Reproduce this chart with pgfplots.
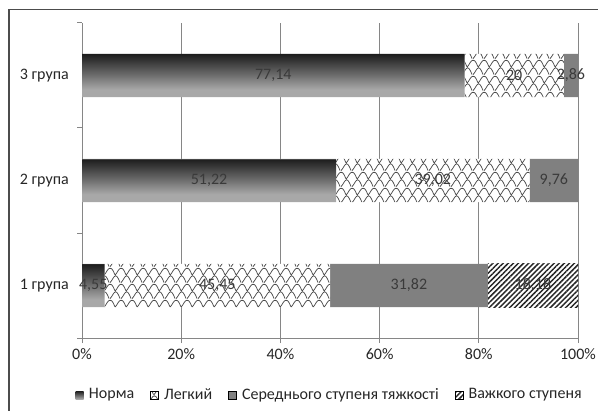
\documentclass[border=0pt]{standalone}
\usepackage{pgfplots}
\pgfplotsset{compat=1.18}
\usepackage{pgfplotstable}
\usepackage{fontspec}
\setmainfont{Carlito}
\usetikzlibrary{patterns,patterns.meta}

\definecolor{axiscol}{HTML}{868686}
\definecolor{labelcol}{HTML}{3A3A3A}
\definecolor{midgray}{HTML}{808080}
\definecolor{nlight}{HTML}{A8A8A8}
\definecolor{nmid}{HTML}{6A6A6A}
\definecolor{ndark}{HTML}{1C1C1C}

% vertical gradient repeated on each of the three bars of the first series
% (bars span 0.795..3.205 of the y range, mapped onto 25bp..75bp)
\pgfdeclareverticalshading{normashade}{100bp}{%
  color(0bp)=(nlight); color(26.5bp)=(nlight); color(29.5bp)=(nmid); color(33.5bp)=(ndark);
  color(33.6bp)=(nlight); color(47.3bp)=(nlight); color(50.3bp)=(nmid); color(54.25bp)=(ndark);
  color(54.35bp)=(nlight); color(68bp)=(nlight); color(71bp)=(nmid); color(75bp)=(ndark);
  color(100bp)=(ndark)}

% staggered fish-scale fill for the "mild" series
\newcommand\scalearc[2]{%
  \pgfpathmoveto{\pgfpointadd{\pgfqpoint{#1}{#2}}{\pgfqpoint{0pt}{0.3pt}}}%
  \pgfpathcurveto{\pgfpointadd{\pgfqpoint{#1}{#2}}{\pgfqpoint{1.5pt}{1.4pt}}}%
                 {\pgfpointadd{\pgfqpoint{#1}{#2}}{\pgfqpoint{3pt}{5.7pt}}}%
                 {\pgfpointadd{\pgfqpoint{#1}{#2}}{\pgfqpoint{4.6pt}{5.7pt}}}%
  \pgfpathcurveto{\pgfpointadd{\pgfqpoint{#1}{#2}}{\pgfqpoint{6.2pt}{5.7pt}}}%
                 {\pgfpointadd{\pgfqpoint{#1}{#2}}{\pgfqpoint{7.4pt}{2pt}}}%
                 {\pgfpointadd{\pgfqpoint{#1}{#2}}{\pgfqpoint{8.25pt}{0.3pt}}}%
}
\pgfdeclarepatternformonly{scales}{\pgfqpoint{0pt}{0pt}}{\pgfqpoint{8.25pt}{12pt}}{\pgfqpoint{8.25pt}{12pt}}{%
  \pgfsetlinewidth{0.6pt}%
  \scalearc{0pt}{0pt}%
  \scalearc{4.125pt}{6pt}%
  \scalearc{-4.125pt}{6pt}%
  \pgfusepath{stroke}%
}

% group, share (%) per severity level
\pgfplotstableread{
g norma
1 4.55
2 51.22
3 77.14
}\tnorma
\pgfplotstableread{
g legkyi
1 45.45
2 39.02
3 20
}\tlegkyi
\pgfplotstableread{
g seredn
1 31.82
2 9.76
3 2.86
}\tseredn
\pgfplotstableread{
g vazhk
1 18.18
}\tvazhk

\begin{document}
\fontsize{12}{14}\selectfont
\begin{tikzpicture}
\useasboundingbox (0pt,0pt) rectangle (448.5pt,307.5pt);
\draw[line width=1.1pt, black!70] (6.75pt,-10pt) -- (6.75pt,300.4pt) -- (470pt,300.4pt);
\begin{axis}[
  at={(61.5pt,54pt)}, anchor=south west,
  scale only axis, width=372pt, height=236.25pt,
  xbar stacked, bar width=0.41,
  xmin=0, xmax=100, ymin=0.5, ymax=3.5,
  axis x line*=bottom, axis y line*=left,
  axis line style={draw=axiscol, line width=0.75pt},
  xtick={0,20,...,100},
  xticklabel={\pgfmathprintnumber{\tick}\%},
  ytick={1,2,3},
  yticklabels={1 група, 2 група, 3 група},
  minor ytick={0.5,1.5,2.5,3.5},
  tick align=outside,
  major tick length=3.75pt, minor tick length=3.75pt,
  major x tick style={draw=axiscol, line width=0.75pt},
  major y tick style={draw=none},
  minor y tick style={draw=axiscol, line width=0.75pt},
  xmajorgrids=true,
  grid style={draw=axiscol, line width=0.75pt},
  /pgf/number format/use comma,
  /pgf/number format/assume math mode=true,
  tick label style={text=black!85},
  yticklabel style={xshift=-2pt},
  nodes near coords,
  every node near coord/.append style={anchor=center, text=labelcol},
  legend style={at={(0.5,-0.181)}, anchor=center, draw=none, fill=none,
    legend columns=4, text=black!85,
    /tikz/every odd column/.append style={column sep=2pt},
    /tikz/every even column/.append style={column sep=10pt}},
  legend image code/.code={\draw[#1] (0pt,-3pt) rectangle (6pt,3pt);},
]
\addplot[draw=none, shade, shading=normashade,
  legend image code/.code={\draw[draw=none, top color=ndark, bottom color=nlight] (0pt,-3pt) rectangle (6pt,3pt);}]
  table[x=norma, y=g] {\tnorma};
\addplot[draw=none, preaction={fill=white}, pattern=scales, pattern color=black!70]
  table[x=legkyi, y=g] {\tlegkyi};
\addplot[draw=none, fill=midgray]
  table[x=seredn, y=g] {\tseredn};
\addplot[draw=none, preaction={fill=white}, pattern={Lines[angle=45, distance=2.7pt, line width=1.1pt]}, pattern color=black!85]
  table[x=vazhk, y=g] {\tvazhk};
\legend{Норма, Легкий, Середнього ступеня тяжкості, Важкого ступеня}
\end{axis}
\end{tikzpicture}
\end{document}
